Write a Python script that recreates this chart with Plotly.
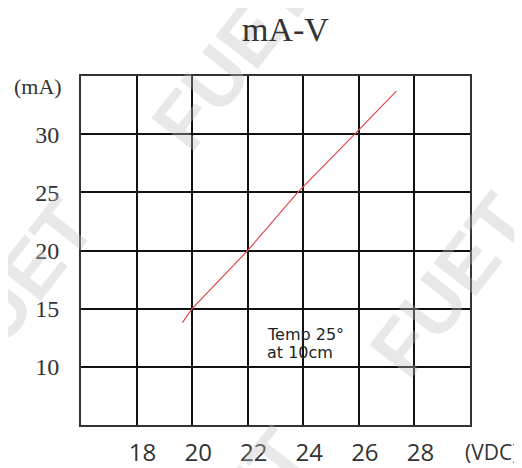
import plotly.graph_objects as go

# Data
voltage = [19.65, 20.0, 22.0, 23.8, 25.85, 27.35]
current = [13.8, 15.0, 20.0, 25.0, 30.0, 33.7]

x_ticks = [18, 20, 22, 24, 26, 28]
x_labels = ["18", "20", "22", "24", "26", "28"]
y_ticks = [10, 15, 20, 25, 30]
y_labels = ["10", "15", "20", "25", "30"]

x_range = [16, 30]
y_range = [5, 35]

title_text = "mA-V"
x_unit = "(VDC)"
y_unit = "(mA)"
note_lines = ["Temp 25°", "at 10cm"]
watermark = "FUET"

# page body has an 8px margin; the figure is sized to fit the window
OFF = 8
W, H = 522 - OFF, 468 - OFF
L, R, T, B = 81 - OFF, 522 - 470, 76 - OFF, 468 - 425
pw, ph = W - L - R, H - T - B

def px(sx):
    return (sx - OFF - L) / pw

def py(sy):
    return (H - B - (sy - OFF)) / ph

fig = go.Figure()
fig.add_trace(go.Scatter(
    x=voltage, y=current, mode="lines",
    line=dict(color="#e04848", width=1.2),
    showlegend=False, hoverinfo="skip",
))

annotations = []
for (wx, wy) in [(232, 58), (450, 285), (15, 290), (230, 520)]:
    annotations.append(dict(
        x=px(wx), y=py(wy), xref="paper", yref="paper",
        text="<b>" + watermark + "</b>", showarrow=False, textangle=-52,
        font=dict(family="Liberation Sans", size=78, color="rgba(190,190,190,0.36)"),
        xanchor="center", yanchor="middle",
    ))

annotations += [
    dict(x=px(285), y=py(29), xref="paper", yref="paper", text=title_text,
         showarrow=False, font=dict(family="Liberation Serif", size=34, color="#333"),
         xanchor="center", yanchor="middle"),
    dict(x=px(64), y=py(86), xref="paper", yref="paper", text=y_unit,
         showarrow=False, font=dict(family="Liberation Serif", size=22, color="#333"),
         xanchor="right", yanchor="middle"),
    dict(x=px(520), y=py(452), xref="paper", yref="paper", text=x_unit,
         showarrow=False, font=dict(family="Open Sans", size=21, color="#333"),
         xanchor="right", yanchor="middle"),
    dict(x=22.62, y=12.82, xref="x", yref="y", text=note_lines[0],
         showarrow=False, font=dict(family="DejaVu Sans", size=16, color="#222"),
         xanchor="left", yanchor="middle"),
    dict(x=22.62, y=11.19, xref="x", yref="y", text=note_lines[1],
         showarrow=False, font=dict(family="DejaVu Sans", size=16, color="#222"),
         xanchor="left", yanchor="middle"),
]

fig.update_layout(
    width=W, height=H,
    margin=dict(l=L, r=R, t=T, b=B, pad=0, autoexpand=False),
    paper_bgcolor="white", plot_bgcolor="white",
    annotations=annotations,
    xaxis=dict(
        range=x_range, tickvals=x_ticks, ticktext=x_labels, automargin=False,
        showgrid=True, gridcolor="#111", gridwidth=1.5,
        showline=True, mirror=True, linecolor="#333", linewidth=2,
        zeroline=False, ticks="", ticklabelstandoff=5, ticklabelshift=6,
        tickfont=dict(family="Open Sans", size=24, color="#333"),
    ),
    yaxis=dict(
        range=y_range, tickvals=y_ticks, ticktext=y_labels, automargin=False,
        showgrid=True, gridcolor="#111", gridwidth=1.5,
        showline=True, mirror=True, linecolor="#333", linewidth=2,
        zeroline=False, ticks="", ticklabelstandoff=15,
        tickfont=dict(family="Liberation Serif", size=24, color="#333"),
    ),
)

fig.write_html("out.html")
